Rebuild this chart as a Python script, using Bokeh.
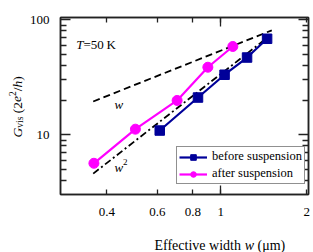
import math
from bokeh.plotting import figure
from bokeh.layouts import row, column
from bokeh.models import Range1d, LogAxis, FixedTicker, Label, Legend, LegendItem
from bokeh.embed import file_html
from bokeh.resources import INLINE

# ---- data ----
before_w = [0.612, 0.833, 1.032, 1.237, 1.454]
before_g = [10.9, 21.1, 33.3, 47.0, 68.4]
after_w = [0.360, 0.503, 0.704, 0.902, 1.103]
after_g = [5.66, 11.2, 19.9, 38.7, 58.6]
guide_w_x = [0.358, 1.51]
guide_w_y = [19.5, 81.0]
guide_w2_x = [0.358, 1.50]
guide_w2_y = [4.6, 74.0]
x_ticks = [0.4, 0.6, 0.8, 1, 2]
x_tick_labels = ["0.4", "0.6", "0.8", "1", "2"]
x_long_ticks = [1]
y_ticks = [10, 100]
y_tick_labels = ["10", "100"]
y_minor_ticks = [4, 5, 6, 7, 8, 9, 20, 30, 40, 50, 60, 70, 80, 90]

FONT = "Liberation Serif"
TOTAL_W, TOTAL_H = 313, 252
YL_W = 26                     # strip holding the rotated y-axis title
MAIN_W, MAIN_H = TOTAL_W - YL_W, 224
XL_H = TOTAL_H - MAIN_H       # strip holding the x-axis title
F_LEFT, F_RIGHT, F_TOP, F_BOTTOM = 57, 308, 17, 194   # frame edges (page px)

def blank(w, h):
    f = figure(width=w, height=h, x_range=Range1d(0, w), y_range=Range1d(0, h),
               min_border=0, min_border_left=0, min_border_right=0,
               min_border_top=0, min_border_bottom=0,
               output_backend="svg", toolbar_location=None)
    f.axis.visible = False
    f.grid.visible = False
    f.outline_line_color = None
    f.background_fill_color = "white"
    f.border_fill_color = "white"
    return f

p = figure(width=MAIN_W, height=MAIN_H, x_axis_type="log", y_axis_type="log",
           x_range=Range1d(0.275, 2.03), y_range=Range1d(3.03, 104.7),
           output_backend="svg", toolbar_location=None,
           min_border_left=F_LEFT - YL_W, min_border_right=TOTAL_W - F_RIGHT,
           min_border_top=F_TOP, min_border_bottom=MAIN_H - F_BOTTOM)
p.xgrid.visible = False
p.ygrid.visible = False
p.outline_line_color = "#222222"
p.outline_line_width = 1.5
p.background_fill_color = "white"
p.border_fill_color = "white"

xt = FixedTicker(ticks=x_ticks, minor_ticks=x_long_ticks)
yt = FixedTicker(ticks=y_ticks, minor_ticks=y_minor_ticks)

def common(ax):
    ax.major_tick_out = 0
    ax.minor_tick_out = 0
    ax.axis_line_color = "#222222"
    ax.axis_line_width = 1.5
    ax.major_tick_line_color = "#222222"
    ax.minor_tick_line_color = "#222222"
    ax.major_tick_line_width = 1.3
    ax.minor_tick_line_width = 1.3
    ax.major_label_text_font = FONT
    ax.major_label_text_color = "black"

def style_x(ax, labels):
    ax.ticker = xt
    ax.major_tick_in = 5
    ax.minor_tick_in = 9
    common(ax)
    if labels:
        ax.major_label_overrides = dict(zip(x_ticks, x_tick_labels))
        ax.major_label_text_font_size = "13px"
        ax.major_label_standoff = 13
    else:
        ax.major_label_overrides = {t: "" for t in x_ticks}
        ax.major_label_text_font_size = "1px"
        ax.major_label_standoff = 0

def style_y(ax, labels):
    ax.ticker = yt
    ax.major_tick_in = 10
    ax.minor_tick_in = 6
    common(ax)
    if labels:
        ax.major_label_overrides = dict(zip(y_ticks, y_tick_labels))
        ax.major_label_text_font_size = "13px"
        ax.major_label_standoff = 11
    else:
        ax.major_label_overrides = {t: "" for t in y_ticks}
        ax.major_label_text_font_size = "1px"
        ax.major_label_standoff = 0

style_x(p.xaxis[0], True)
style_y(p.yaxis[0], True)
top = LogAxis()
style_x(top, False)
p.add_layout(top, "above")
right = LogAxis()
style_y(right, False)
p.add_layout(right, "right")

# guide lines
p.line(guide_w_x, guide_w_y, line_color="black", line_width=1.8, line_dash="7 4")
p.line(guide_w2_x, guide_w2_y, line_color="black", line_width=1.8, line_dash="7 3 2 3")

BLUE = "#000099"
MAG = "#FF00FF"
lb = p.line(before_w, before_g, line_color=BLUE, line_width=2.2)
sb = p.scatter(before_w, before_g, marker="square", size=9.5, fill_color=BLUE, line_color=BLUE)
la = p.line(after_w, after_g, line_color=MAG, line_width=2.2)
sa = p.scatter(after_w, after_g, marker="circle", size=10, fill_color=MAG, line_color=MAG)

legend = Legend(items=[LegendItem(label="before suspension", renderers=[lb, sb]),
                       LegendItem(label="after suspension", renderers=[la, sa])],
                location=(116, 10))
legend.border_line_color = "#222222"
legend.border_line_width = 1
legend.background_fill_alpha = 1
legend.padding = 2
legend.spacing = 2
legend.margin = 0
legend.glyph_width = 28
legend.glyph_height = 14
legend.label_height = 14
legend.label_standoff = 5
legend.label_text_font = FONT
legend.label_text_font_size = "12.5px"
legend.label_text_color = "black"
p.add_layout(legend, "center")

def add_label(fig, text, x, y, size, style="normal", angle=0.0, units="screen"):
    fig.add_layout(Label(x=x, y=y, x_units=units, y_units=units, text=text,
                         text_font=FONT, text_font_size=size, text_font_style=style,
                         text_color="black", angle=angle, text_align="left",
                         text_baseline="alphabetic"))

# T = 50 K (frame-relative screen position)
add_label(p, "T", 72.7 - F_LEFT, F_BOTTOM - 43.5, "13px", "italic")
add_label(p, "=50\u2009K", 80.0 - F_LEFT, F_BOTTOM - 43.5, "13px")

# guide-line labels (data position)
add_label(p, "w", 0.425, 18.5, "13px", "italic", units="data")
add_label(p, "w", 0.425, 5.2, "13px", "italic", units="data")
add_label(p, "2", 0.455, 5.8, "9px", units="data")

# x-axis title strip
xf = blank(MAIN_W, XL_H)
XB = TOTAL_H - 244.5
add_label(xf, "Effective width", 120 - YL_W, XB, "14px")
add_label(xf, "w", 210.2 - YL_W, XB, "14px", "italic")
add_label(xf, "(\u03bcm)", 223.0 - YL_W, XB, "14px")

# y-axis title strip (rotated, reading upward): (text, size, style, advance, offset across, gap before)
yf = blank(YL_W, TOTAL_H)
A = math.pi / 2
BX = 16.5
m, s = 13.5, 9.5
pieces = [("G", m, "italic", 0.722 * m, 0, 0),
          ("vis", s, "normal", 1.167 * s, 3, 0),
          ("(2", m, "normal", 0.833 * m, 0, 0.25 * m),
          ("e", m, "italic", 0.444 * m, 0, 0),
          ("2", s, "normal", 0.5 * s, -5, 0),
          ("/", m, "normal", 0.278 * m, 0, 0),
          ("h", m, "italic", 0.5 * m, 0, 0),
          (")", m, "normal", 0.333 * m, 0, 0)]
ycur = TOTAL_H - 137.0
for txt, fs, st, wdt, dx, gap in pieces:
    ycur += gap
    add_label(yf, txt, BX + dx, ycur, "%.1fpx" % fs, st, angle=A)
    ycur += wdt

layout = row(yf, column(p, xf))
open("out.html", "w").write(file_html(layout, INLINE))
